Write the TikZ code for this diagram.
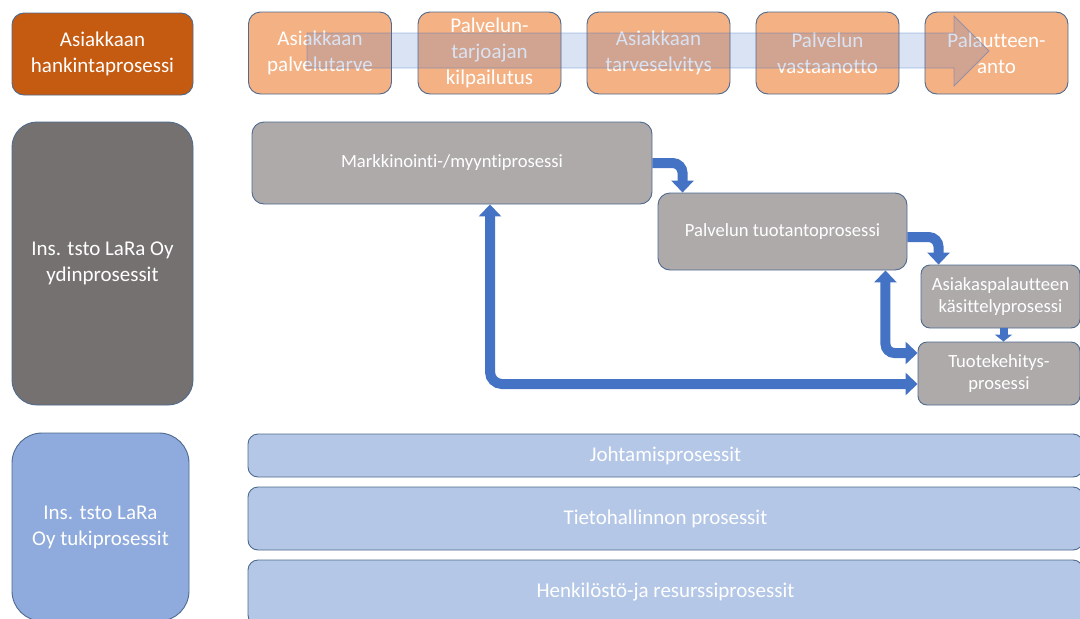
\documentclass[tikz,border=0pt]{standalone}
\usepackage{fontspec}
\setmainfont{Carlito}[Ligatures=NoCommon]
\usetikzlibrary{arrows.meta}

\definecolor{hankorange}{HTML}{C55A11}
\definecolor{steporange}{HTML}{F4B183}
\definecolor{coregray}{HTML}{767171}
\definecolor{procgray}{HTML}{AEAAAA}
\definecolor{supportblue}{HTML}{8FAADC}
\definecolor{paleblue}{HTML}{B4C7E7}
\definecolor{flowblue}{HTML}{4472C4}
\definecolor{edgeblue}{HTML}{4E6A8E}

\tikzset{
  box/.style={draw=edgeblue, line width=0.9pt, rounded corners=12pt,
    text=white, align=center, inner sep=2pt},
  bigtxt/.style={font=\fontsize{21}{26}\selectfont},
  midtxt/.style={font=\fontsize{18.6}{22.5}\selectfont},
  stepbox/.style={box, bigtxt, fill=steporange, minimum width=143pt, minimum height=82pt},
  procbox/.style={box, midtxt, fill=procgray},
  supbox/.style={box, bigtxt, fill=paleblue, rounded corners=10pt, minimum width=835pt},
  flow/.style={draw=flowblue, line width=10pt, rounded corners=10pt,
    -{Triangle[width=22pt,length=12pt]}},
  flowboth/.style={draw=flowblue, line width=10pt, rounded corners=12pt,
    {Triangle[width=22pt,length=12pt]}-{Triangle[width=22pt,length=12pt]}},
  flowsmall/.style={draw=flowblue, line width=8pt,
    -{Triangle[width=17pt,length=7pt]}},
}

\begin{document}
\begin{tikzpicture}[x=1pt, y=-1pt]
  \useasboundingbox (0,0) rectangle (1080,619);
  \clip (0,0) rectangle (1080,619);

  % customer procurement row
  \node[box, bigtxt, fill=hankorange, minimum width=181pt, minimum height=82pt]
    (hank) at (102.5,54) {Asiakkaan\\hankintaprosessi};
  \node[stepbox] (s1) at (320,53)   {Asiakkaan\\palvelutarve};
  \node[stepbox] (s2) at (489.5,53) {Palvelun-\\tarjoajan\\kilpailutus};
  \node[stepbox] (s3) at (658.5,53) {Asiakkaan\\tarveselvitys};
  \node[stepbox] (s4) at (827.5,53) {Palvelun\\vastaanotto};
  \node[stepbox] (s5) at (996.5,53) {Palautteen-\\anto};

  % translucent process arrow over the steps
  \fill[flowblue, fill opacity=0.2]
    (307,33) -- (954,33) -- (954,16) -- (989,51) -- (954,86) -- (954,68) -- (307,68) -- cycle;
  \draw[flowblue, draw opacity=0.45, line width=0.8pt]
    (307,33) -- (954,33) -- (954,16) -- (989,51) -- (954,86) -- (954,68) -- (307,68) -- cycle;

  % core processes
  \node[box, bigtxt, fill=coregray, rounded corners=25pt, minimum width=181pt, minimum height=283pt]
    (core) at (102.5,263.5) {Ins. tsto LaRa Oy\\ydinprosessit};
  \node[procbox, minimum width=400pt, minimum height=82pt]
    (mark) at (452,163) {Markkinointi-/myyntiprosessi};
  \node[procbox, minimum width=249pt, minimum height=77pt]
    (tuot) at (782.5,231.5) {Palvelun tuotantoprosessi};
  \node[procbox, minimum width=159pt, minimum height=63pt, rounded corners=9pt]
    (pal) at (1000.5,296.5) {Asiakaspalautteen\\käsittelyprosessi};
  \node[procbox, minimum width=162pt, minimum height=63pt, rounded corners=9pt]
    (keh) at (999,373.5) {Tuotekehitys-\\prosessi};

  % connectors between core processes
  \draw[flow] (mark.east) -| ([xshift=25pt]tuot.north west);
  \draw[flow] ([yshift=-5.5pt]tuot.east) -| ([xshift=18pt]pal.north west);
  \draw[flowsmall] ([xshift=3pt]pal.south) -- ([xshift=3pt]pal.south |- keh.north);
  \draw[flowboth, rounded corners=9pt] ([xshift=-22pt]tuot.south east) |- ([yshift=20.5pt]keh.west);
  \draw[flowboth] ([xshift=38pt]mark.south) |- ([yshift=-10.5pt]keh.west);

  % support processes
  \node[box, bigtxt, fill=supportblue, rounded corners=30pt, minimum width=177pt, minimum height=188pt]
    (tuki) at (100.5,527) {Ins. tsto LaRa\\Oy tukiprosessit};
  \node[supbox, minimum height=43pt] (joht) at (665.5,455.5) {Johtamisprosessit};
  \node[supbox, minimum height=63pt] (tieto) at (665.5,518.5) {Tietohallinnon prosessit};
  \node[supbox, minimum height=65pt] (henk) at (665.5,592.5) {Henkilöstö-ja resurssiprosessit};
\end{tikzpicture}
\end{document}
